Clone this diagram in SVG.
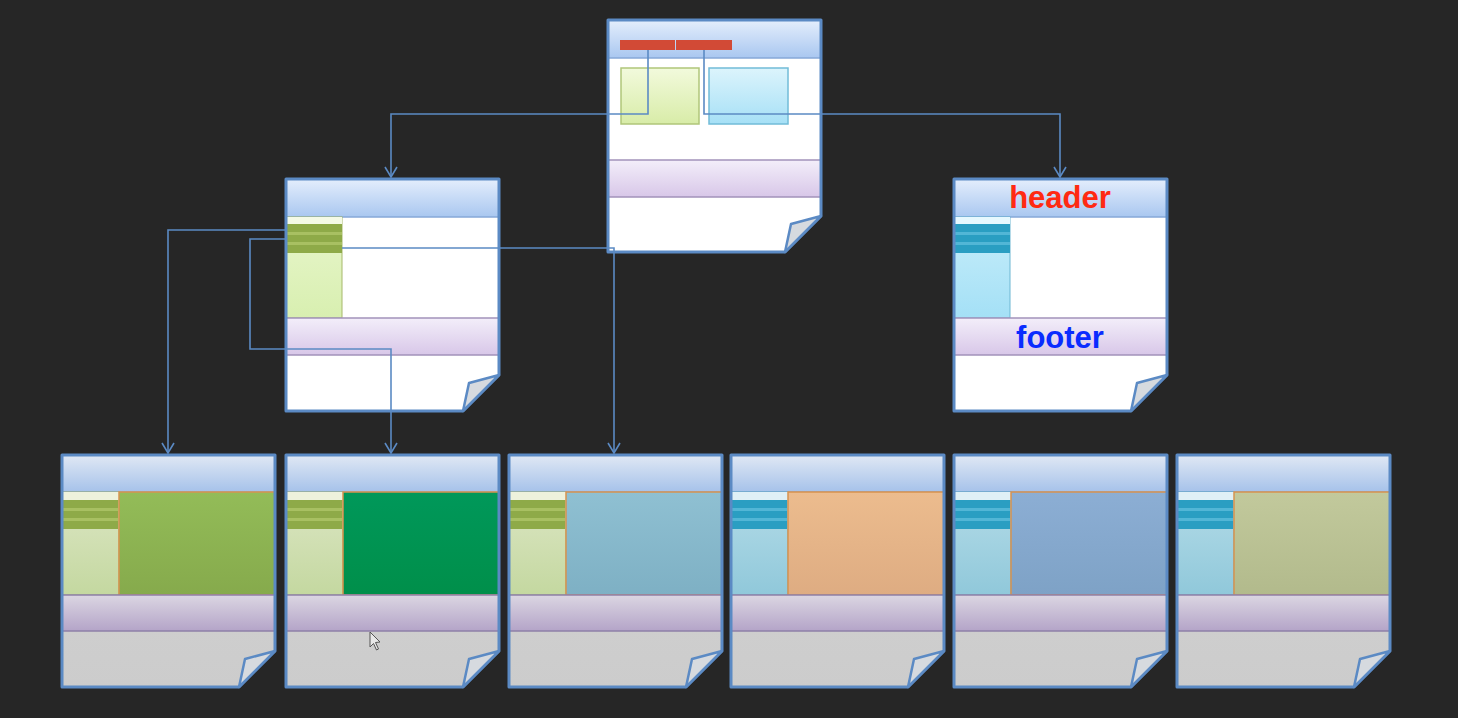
<svg xmlns="http://www.w3.org/2000/svg" width="1458" height="718" viewBox="0 0 1458 718">
<style>
.frame{fill:none;stroke:#5b8ac4;stroke-width:3;stroke-linejoin:round}
.wbody{fill:#ffffff}
.gbody{fill:url(#gBody)}
.hdr{fill:url(#gHdr);stroke:#86a8d8;stroke-width:1.5}
.hdrB{fill:url(#gHdrB);stroke:#86a8d8;stroke-width:1.5}
.ftrT{fill:url(#gFtrT);stroke:#a292ba;stroke-width:1.5}
.ftrB{fill:url(#gFtrB);stroke:#8e80a8;stroke-width:1.5}
.flap{fill:#d6dadf;stroke:#5b8ac4;stroke-width:2.5;stroke-linejoin:round}
.conn{fill:none;stroke:#5b8ac4;stroke-width:1.6}
.content{stroke:#d8924f;stroke-width:1.5}
.sgL{fill:url(#gSgL);stroke:#a6b86a;stroke-width:1}
.scL{fill:url(#gScL);stroke:#6cb6d2;stroke-width:1}
.sgB{fill:url(#gSgB);stroke:#a0b070;stroke-width:1}
.scB{fill:url(#gScB);stroke:#5ea8c4;stroke-width:1}
.gs{fill:#8eaa48}
.gsl{fill:#a8c062}
.cs{fill:#2a9ec2}
.csl{fill:#52b6d6}
.lbl{font-family:"Liberation Sans",Arial,sans-serif;font-weight:bold;font-size:31px;text-anchor:middle}
</style>
<defs>
<linearGradient id="gHdr" x1="0" y1="0" x2="0" y2="1"><stop offset="0" stop-color="#e4eefc"/><stop offset="1" stop-color="#a9c7f0"/></linearGradient>
<linearGradient id="gHdrB" x1="0" y1="0" x2="0" y2="1"><stop offset="0" stop-color="#e0e8f4"/><stop offset="1" stop-color="#a6c2ea"/></linearGradient>
<linearGradient id="gFtrT" x1="0" y1="0" x2="0" y2="1"><stop offset="0" stop-color="#f3eefa"/><stop offset="1" stop-color="#d8c7e8"/></linearGradient>
<linearGradient id="gFtrB" x1="0" y1="0" x2="0" y2="1"><stop offset="0" stop-color="#dbd6e2"/><stop offset="1" stop-color="#b4a4c8"/></linearGradient>
<linearGradient id="gBody" x1="0" y1="0" x2="0" y2="1"><stop offset="0" stop-color="#d4d4d4"/><stop offset="1" stop-color="#cccccc"/></linearGradient>
<linearGradient id="gSgL" x1="0" y1="0" x2="0" y2="1"><stop offset="0" stop-color="#e8f6cc"/><stop offset="1" stop-color="#d8efb0"/></linearGradient>
<linearGradient id="gScL" x1="0" y1="0" x2="0" y2="1"><stop offset="0" stop-color="#c8eefa"/><stop offset="1" stop-color="#a4e0f6"/></linearGradient>
<linearGradient id="gSgB" x1="0" y1="0" x2="0" y2="1"><stop offset="0" stop-color="#dce6c4"/><stop offset="1" stop-color="#c4d8a0"/></linearGradient>
<linearGradient id="gScB" x1="0" y1="0" x2="0" y2="1"><stop offset="0" stop-color="#b4dce8"/><stop offset="1" stop-color="#90c8da"/></linearGradient>
<linearGradient id="gGreenBox" x1="0" y1="0" x2="0" y2="1"><stop offset="0" stop-color="#f2fadc"/><stop offset="1" stop-color="#d8eca8"/></linearGradient>
<linearGradient id="gBlueBox" x1="0" y1="0" x2="0" y2="1"><stop offset="0" stop-color="#dcf4fc"/><stop offset="1" stop-color="#a6e0f6"/></linearGradient>
<linearGradient id="c1" x1="0" y1="0" x2="0" y2="1"><stop offset="0" stop-color="#93bc58"/><stop offset="1" stop-color="#86aa4c"/></linearGradient>
<linearGradient id="c2" x1="0" y1="0" x2="0" y2="1"><stop offset="0" stop-color="#00985a"/><stop offset="1" stop-color="#008f4a"/></linearGradient>
<linearGradient id="c3" x1="0" y1="0" x2="0" y2="1"><stop offset="0" stop-color="#8fc0d2"/><stop offset="1" stop-color="#7eb0c4"/></linearGradient>
<linearGradient id="c4" x1="0" y1="0" x2="0" y2="1"><stop offset="0" stop-color="#ecbc8e"/><stop offset="1" stop-color="#deac82"/></linearGradient>
<linearGradient id="c5" x1="0" y1="0" x2="0" y2="1"><stop offset="0" stop-color="#8caed4"/><stop offset="1" stop-color="#7ea2c6"/></linearGradient>
<linearGradient id="c6" x1="0" y1="0" x2="0" y2="1"><stop offset="0" stop-color="#c2c99c"/><stop offset="1" stop-color="#b2ba8c"/></linearGradient>
<path id="shape" d="M0,0 H213 V196 L177,232 H0 Z"/>
<path id="flapP" d="M177,232 L183,204 L213,196 Z"/>
<g id="gStripes">
<rect x="0" y="45" width="56" height="29" class="gs"/>
<rect x="0" y="53" width="56" height="3" class="gsl"/>
<rect x="0" y="63" width="56" height="3" class="gsl"/>
</g>
<g id="cStripes">
<rect x="0" y="45" width="56" height="29" class="cs"/>
<rect x="0" y="53" width="56" height="3" class="csl"/>
<rect x="0" y="63" width="56" height="3" class="csl"/>
</g>
<marker id="arr" viewBox="-1 -7 12 14" refX="10" refY="0" markerWidth="12" markerHeight="14" markerUnits="userSpaceOnUse" orient="auto"><path d="M0,-6 L10,0 L0,6" fill="none" stroke="#5b8ac4" stroke-width="1.6"/></marker>
</defs>
<rect x="0" y="0" width="1458" height="718" fill="#262626"/>

<g id="node-top" transform="translate(608,20)">
<use href="#shape" class="wbody"/>
<rect x="0" y="0" width="213" height="38" class="hdr"/>
<rect x="12" y="20" width="55" height="10" fill="#d24a36"/>
<rect x="68" y="20" width="56" height="10" fill="#d24a36"/>
<rect x="13" y="48" width="78" height="56" fill="url(#gGreenBox)" stroke="#b0c67a" stroke-width="1.5"/>
<rect x="101" y="48" width="79" height="56" fill="url(#gBlueBox)" stroke="#72bcd8" stroke-width="1.5"/>
<rect x="0" y="140" width="213" height="37" class="ftrT"/>
<use href="#shape" class="frame"/>
<use href="#flapP" class="flap"/>
</g>

<g id="node-mid-left" transform="translate(286,179)">
<use href="#shape" class="wbody"/>
<rect x="0" y="0" width="213" height="38" class="hdr"/>
<rect x="0" y="38" width="56" height="101" class="sgL"/>
<rect x="0" y="38" width="56" height="7" fill="#f4fae6"/>
<use href="#gStripes"/>
<rect x="0" y="139" width="213" height="37" class="ftrT"/>
<use href="#shape" class="frame"/>
<use href="#flapP" class="flap"/>
</g>

<g id="node-mid-right" transform="translate(954,179)">
<use href="#shape" class="wbody"/>
<rect x="0" y="0" width="213" height="38" class="hdr"/>
<rect x="0" y="38" width="56" height="101" class="scL"/>
<rect x="0" y="38" width="56" height="7" fill="#e6f8fe"/>
<use href="#cStripes"/>
<rect x="0" y="139" width="213" height="37" class="ftrT"/>
<use href="#shape" class="frame"/>
<use href="#flapP" class="flap"/>
<text x="106" y="29" class="lbl" fill="#ff2a12">header</text>
<text x="106" y="169" class="lbl" fill="#0a2cff">footer</text>
</g>

<g id="node-b1" transform="translate(62,455)">
<use href="#shape" class="gbody"/>
<rect x="0" y="0" width="213" height="37" class="hdrB"/>
<rect x="0" y="37" width="57" height="103" class="sgB"/>
<rect x="0" y="37" width="57" height="8" fill="#eef2dc"/>
<use href="#gStripes"/>
<rect x="57" y="37" width="156" height="103" fill="url(#c1)" class="content"/>
<rect x="0" y="140" width="213" height="36" class="ftrB"/>
<use href="#shape" class="frame"/>
<use href="#flapP" class="flap"/>
</g>

<g id="node-b2" transform="translate(286,455)">
<use href="#shape" class="gbody"/>
<rect x="0" y="0" width="213" height="37" class="hdrB"/>
<rect x="0" y="37" width="57" height="103" class="sgB"/>
<rect x="0" y="37" width="57" height="8" fill="#eef2dc"/>
<use href="#gStripes"/>
<rect x="57" y="37" width="156" height="103" fill="url(#c2)" class="content"/>
<rect x="0" y="140" width="213" height="36" class="ftrB"/>
<use href="#shape" class="frame"/>
<use href="#flapP" class="flap"/>
</g>

<g id="node-b3" transform="translate(509,455)">
<use href="#shape" class="gbody"/>
<rect x="0" y="0" width="213" height="37" class="hdrB"/>
<rect x="0" y="37" width="57" height="103" class="sgB"/>
<rect x="0" y="37" width="57" height="8" fill="#eef2dc"/>
<use href="#gStripes"/>
<rect x="57" y="37" width="156" height="103" fill="url(#c3)" class="content"/>
<rect x="0" y="140" width="213" height="36" class="ftrB"/>
<use href="#shape" class="frame"/>
<use href="#flapP" class="flap"/>
</g>

<g id="node-b4" transform="translate(731,455)">
<use href="#shape" class="gbody"/>
<rect x="0" y="0" width="213" height="37" class="hdrB"/>
<rect x="0" y="37" width="57" height="103" class="scB"/>
<rect x="0" y="37" width="57" height="8" fill="#dff0f6"/>
<use href="#cStripes"/>
<rect x="57" y="37" width="156" height="103" fill="url(#c4)" class="content"/>
<rect x="0" y="140" width="213" height="36" class="ftrB"/>
<use href="#shape" class="frame"/>
<use href="#flapP" class="flap"/>
</g>

<g id="node-b5" transform="translate(954,455)">
<use href="#shape" class="gbody"/>
<rect x="0" y="0" width="213" height="37" class="hdrB"/>
<rect x="0" y="37" width="57" height="103" class="scB"/>
<rect x="0" y="37" width="57" height="8" fill="#dff0f6"/>
<use href="#cStripes"/>
<rect x="57" y="37" width="156" height="103" fill="url(#c5)" class="content"/>
<rect x="0" y="140" width="213" height="36" class="ftrB"/>
<use href="#shape" class="frame"/>
<use href="#flapP" class="flap"/>
</g>

<g id="node-b6" transform="translate(1177,455)">
<use href="#shape" class="gbody"/>
<rect x="0" y="0" width="213" height="37" class="hdrB"/>
<rect x="0" y="37" width="57" height="103" class="scB"/>
<rect x="0" y="37" width="57" height="8" fill="#dff0f6"/>
<use href="#cStripes"/>
<rect x="57" y="37" width="156" height="103" fill="url(#c6)" class="content"/>
<rect x="0" y="140" width="213" height="36" class="ftrB"/>
<use href="#shape" class="frame"/>
<use href="#flapP" class="flap"/>
</g>

<g id="connectors">
<path class="conn" d="M648,50 V114 H391 V177" marker-end="url(#arr)"/>
<path class="conn" d="M704,50 V114 H1060 V177" marker-end="url(#arr)"/>
<path class="conn" d="M286,230 H168 V453" marker-end="url(#arr)"/>
<path class="conn" d="M286,239 H250 V349 H391 V453" marker-end="url(#arr)"/>
<path class="conn" d="M342,248 H614 V453" marker-end="url(#arr)"/>
</g>

<path id="cursor" d="M370,632 L370,647 L373.5,643.5 L376.5,650 L378.5,649 L375.5,642.5 L380,642 Z" fill="#e8e8e8" stroke="#555555" stroke-width="1"/>
</svg>
